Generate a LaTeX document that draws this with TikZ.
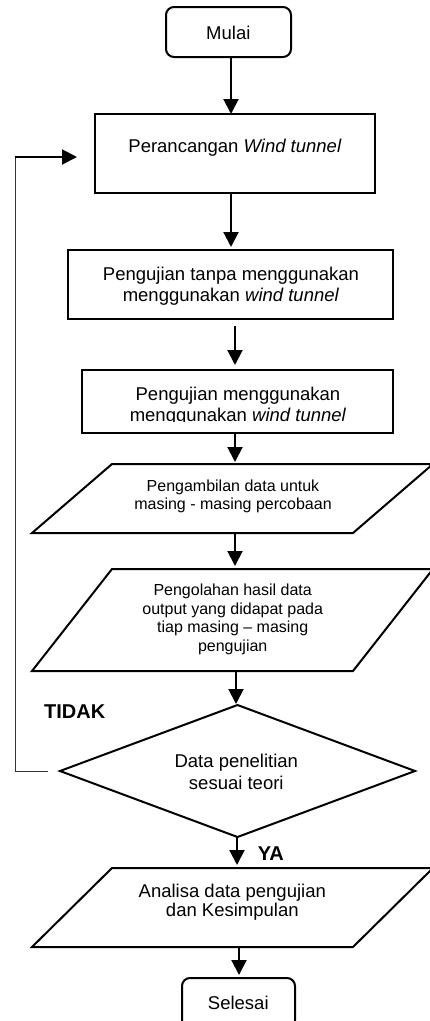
\documentclass[tikz,border=0pt]{standalone}
\usepackage{fontspec}
\setmainfont{Liberation Sans}
\usetikzlibrary{arrows.meta,calc}
\begin{document}
\begin{tikzpicture}[x=1pt,y=-1pt,
  shp/.style={inner sep=0pt, outer sep=0pt},
  edge/.style={line width=2pt},
  arr/.style={line width=2pt, -{Triangle[width=15pt,length=15pt]}},
  lbl/.style={inner sep=0pt, anchor=base, font=\fontsize{18.5}{21.5}\selectfont},
  mlbl/.style={inner sep=0pt, align=center, font=\fontsize{18.5}{21.5}\selectfont},
  slbl/.style={inner sep=0pt, align=center, font=\fontsize{16}{18.4}\selectfont},
  blbl/.style={inner sep=0pt, anchor=base, font=\fontsize{20}{24}\selectfont\bfseries},
]
\useasboundingbox (0,0) rectangle (430,1021);
\clip (0,0) rectangle (430,1021);

% shapes
\node[shp, draw, edge, rounded corners=8pt, minimum width=125pt, minimum height=50pt] (mulai) at (228.5,32) {};
\node[shp, draw, edge, minimum width=280pt, minimum height=79pt] (box1) at (235,153.5) {};
\node[shp, draw, edge, minimum width=325pt, minimum height=69pt] (box2) at (230.5,284.5) {};
\node[shp, draw, edge, minimum width=311pt, minimum height=63pt] (box3) at (237.5,401.5) {};
\node[shp, minimum width=401pt, minimum height=69pt] (par1) at (232.5,498.5) {};
\draw[edge] ($(par1.north west)+(80,0)$) -- (par1.north east) -- ($(par1.south east)+(-80,0)$) -- (par1.south west) -- cycle;
\node[shp, minimum width=401pt, minimum height=102pt] (par2) at (232.5,620) {};
\draw[edge] ($(par2.north west)+(80,0)$) -- (par2.north east) -- ($(par2.south east)+(-80,0)$) -- (par2.south west) -- cycle;
\node[shp, minimum width=355pt, minimum height=132pt] (dia) at (237.5,771) {};
\draw[edge] (dia.north) -- (dia.east) -- (dia.south) -- (dia.west) -- cycle;
\node[shp, minimum width=401pt, minimum height=79pt] (par3) at (232.5,907.5) {};
\draw[edge] ($(par3.north west)+(80,0)$) -- (par3.north east) -- ($(par3.south east)+(-80,0)$) -- (par3.south west) -- cycle;
\node[shp, draw, edge, rounded corners=8pt, minimum width=113pt, minimum height=50pt] (sel) at (238.5,1003) {};

% texts
\node[lbl] (tmulai) at (228.3,39.3) {Mulai};
\node[lbl] (tbox1) at (235,152.7) {Perancangan \textit{Wind tunnel}};
\node[mlbl] (tbox2) at (231,286) {Pengujian tanpa menggunakan\\menggunakan \textit{wind tunnel}};
\begin{scope}
  \clip (0,370) rectangle (430,421.5);
  \node[mlbl] (tbox3) at (238,406) {Pengujian menggunakan\\menggunakan \textit{wind tunnel}};
\end{scope}
\node[slbl] (tpar1) at (233,496.5) {Pengambilan data untuk\\masing - masing percobaan};
\node[slbl] (tpar2) at (232.7,619.3) {Pengolahan hasil data\\output yang didapat pada\\tiap masing – masing\\pengujian};
\node[mlbl] (tdia) at (236.3,771.8) {Data penelitian\\sesuai teori};
\node[mlbl, font=\fontsize{18.5}{19.4}\selectfont] (tpar3) at (232.3,902.2) {Analisa data pengujian\\dan Kesimpulan};
\node[lbl] (tsel) at (238.3,1009) {Selesai};
\node[blbl] (tidak) at (74.7,718.3) {TIDAK};
\node[blbl] (ya) at (270.8,860.7) {YA};

% connectors
\draw[arr] ([xshift=2.5pt]mulai.south) -- ([xshift=2.5pt]mulai.south |- box1.north);
\draw[arr, shorten >=3pt] ([xshift=-4pt]box1.south) -- ([xshift=-4pt]box1.south |- box2.north);
\draw[arr, shorten <=7pt, shorten >=5pt] ([xshift=4.5pt]box2.south) -- ([xshift=4.5pt]box2.south |- box3.north);
\draw[arr, shorten >=2pt] ([xshift=-2.5pt]box3.south) -- ([xshift=-2.5pt]box3.south |- par1.north);
\draw[arr, shorten >=3pt] ([xshift=2.5pt]par1.south) -- ([xshift=2.5pt]par1.south |- par2.north);
\draw[arr, shorten >=1pt] ([xshift=3.5pt]par2.south) -- ([xshift=3.5pt]par2.south |- dia.north);
\draw[arr, shorten >=3pt] ([xshift=-0.5pt]dia.south) -- ([xshift=-0.5pt]dia.south |- par3.north);
\draw[arr, shorten >=3pt] ([xshift=6.5pt]par3.south) -- ([xshift=6.5pt]par3.south |- sel.north);

% feedback loop
\coordinate (lt) at (15,157);
\draw[line width=1pt, black!80] ([xshift=-12pt]dia.west) -- (dia.west -| lt) -- (lt);
\draw[arr, shorten >=18pt] (lt) -- (lt -| box1.west);
\end{tikzpicture}
\end{document}
